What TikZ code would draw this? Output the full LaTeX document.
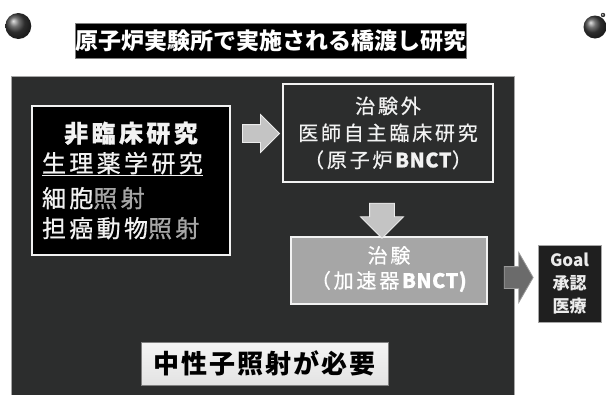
\documentclass[tikz,border=0pt]{standalone}
\usepackage{fontspec}
\setmainfont{Noto Sans CJK JP}
\usetikzlibrary{shapes.arrows}
\definecolor{panel}{HTML}{2C2D2D}
\definecolor{shade}{HTML}{A6A6A6}
\definecolor{pale}{HTML}{F2F2F2}
\definecolor{arrowgray}{HTML}{C4C4C4}
\newcommand{\latin}[1]{{\addfontfeatures{LetterSpace=2}#1}}
\begin{document}
\begin{tikzpicture}[x=1pt,y=-1pt,
box/.style={draw=pale, line width=2pt, inner sep=0pt, text=pale, align=center},
blockarrow/.style={single arrow, draw=white!85!gray, line width=0.8pt, fill=arrowgray, single arrow head indent=0pt, inner sep=0pt}
]
\useasboundingbox (0,0) rectangle (607,394);
\fill[white] (0,0) rectangle (607,394);
\shade[ball color=black!75] (18.3,26) circle (13);
\shade[ball color=black!75] (603,15) circle (2.2);
\shade[ball color=black!75] (595,27) circle (11.5);
\node[draw=gray, line width=0.8pt, fill=black, text=white, minimum width=386pt, minimum height=35pt, inner sep=0pt,
  font=\fontsize{23}{28}\selectfont\bfseries] (title) at (271,40.5) {原子炉実験所で実施される橋渡し研究};
\fill[panel, draw=gray!70, line width=0.6pt] (11.7,76) rectangle (514,396);

\node[box, fill=black, minimum width=198pt, minimum height=149pt] (nonclin) at (131,180.5)
  {\begin{minipage}{178pt}\fontsize{24}{30}\selectfont\addfontfeatures{LetterSpace=14,FakeBold=0.8}
   \makebox[\linewidth]{\bfseries 非臨床研究}\\
   \underline{生理薬学研究}\\[5pt]
   細胞{\color{shade}照射}\\
   担癌動物{\color{shade}照射}\end{minipage}};
\node[box, fill=panel, minimum width=210pt, minimum height=98pt, yshift=2pt,
  font=\fontsize{20}{27}\selectfont\addfontfeatures{LetterSpace=14,FakeBold=0.6}] (clin) at (388,135)
  {治験外\\医師自主臨床研究\\（原子炉\latin{\textbf{BNCT}}）};
\node[box, fill=shade, minimum width=196pt, minimum height=67pt, text=white,
  font=\fontsize{20}{25}\selectfont\addfontfeatures{LetterSpace=14,FakeBold=0.6}] (accel) at (389,270.5)
  {\raisebox{-4pt}{\begin{tabular}{@{}c@{}}治験\\（加速器\latin{\textbf{BNCT)}}\end{tabular}}};
\node[draw=gray, line width=0.8pt, top color=white!92!gray, bottom color=white!78!gray, minimum width=247pt, minimum height=43pt, inner sep=0pt,
  font=\fontsize{26}{30}\selectfont\bfseries\addfontfeatures{LetterSpace=8}] (need) at (264.5,363.5) {中性子照射が必要};
\node[draw=gray!70, line width=0.8pt, fill=black!88, text=white!85!gray, minimum width=63pt, minimum height=77pt, inner sep=0pt, align=center,
  font=\fontsize{17}{23}\selectfont\bfseries] (goal) at (569.5,283.5) {Goal\\承認\\医療};

\node[blockarrow, minimum height=37pt, inner ysep=8.5pt, single arrow head extend=10pt] (toclin) at (256.5,133.5) {};
\node[blockarrow, rotate=-90, minimum height=35pt, inner ysep=12pt, single arrow head extend=9pt] (toaccel) at (382,214.5) {};
\node[blockarrow, fill=black!58, draw=gray!80, minimum height=29pt, inner ysep=10.5pt, single arrow head extend=14pt, single arrow tip angle=120] (togoal) at (515.5,277.5) {};
\end{tikzpicture}
\end{document}
